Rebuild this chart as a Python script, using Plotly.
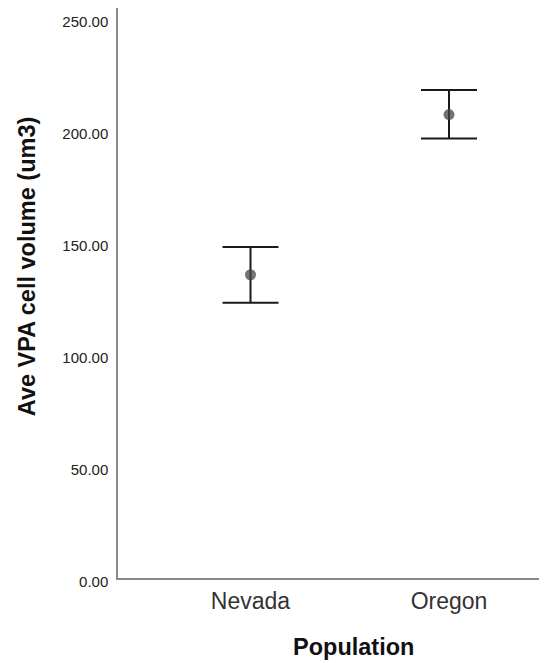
import plotly.graph_objects as go

categories = ["Nevada", "Oregon"]
means = [135.4, 206.9]
upper = [147.8, 217.9]
lower = [122.9, 196.2]
y_ticks = [0, 50, 100, 150, 200, 250]
y_ticklabels = ["0.00", "50.00", "100.00", "150.00", "200.00", "250.00"]
x_title = "Population"
y_title = "Ave VPA cell volume (um3)"

xpos = list(range(len(categories)))
err_plus = [u - m for u, m in zip(upper, means)]
err_minus = [m - l for m, l in zip(means, lower)]

fig = go.Figure()
fig.add_trace(go.Scatter(
    x=xpos, y=means, mode="markers",
    marker=dict(size=11, color="rgba(70,70,70,0.75)"),
    error_y=dict(type="data", symmetric=False, array=err_plus, arrayminus=err_minus,
                 color="#1a1a1a", thickness=2, width=28),
    showlegend=False,
))

fig.update_layout(
    width=539, height=655,
    margin=dict(l=110, r=0, t=0, b=85),
    paper_bgcolor="white", plot_bgcolor="white",
    font=dict(family="Liberation Sans, Arial, sans-serif", color="#222"),
    xaxis=dict(
        range=[-0.6675, 1.4937], tickmode="array", tickvals=xpos, ticktext=categories,
        showgrid=False, zeroline=False, showline=True, linecolor="#888", linewidth=1.5,
        ticks="", tickfont=dict(size=23, color="#333"), ticklabelstandoff=2,
    ),
    yaxis=dict(
        range=[0, 254.5], tickmode="array", tickvals=y_ticks, ticktext=y_ticklabels,
        showgrid=False, zeroline=False, showline=True, linecolor="#888", linewidth=1.5,
        ticks="", tickfont=dict(size=15, color="#222"), ticklabelstandoff=5,
        ticklabelshift=4,
    ),
    annotations=[
        dict(text="<b>" + x_title + "</b>", xref="paper", yref="paper", x=0.5478, y=-0.121,
             xanchor="center", yanchor="middle", showarrow=False,
             font=dict(size=23.5, color="#111")),
        dict(text="<b>" + y_title + "</b>", xref="paper", yref="paper", x=-0.2121, y=0.547,
             xanchor="center", yanchor="middle", showarrow=False, textangle=-90,
             font=dict(size=23.5, color="#111")),
    ],
)

fig.write_html("out.html")
